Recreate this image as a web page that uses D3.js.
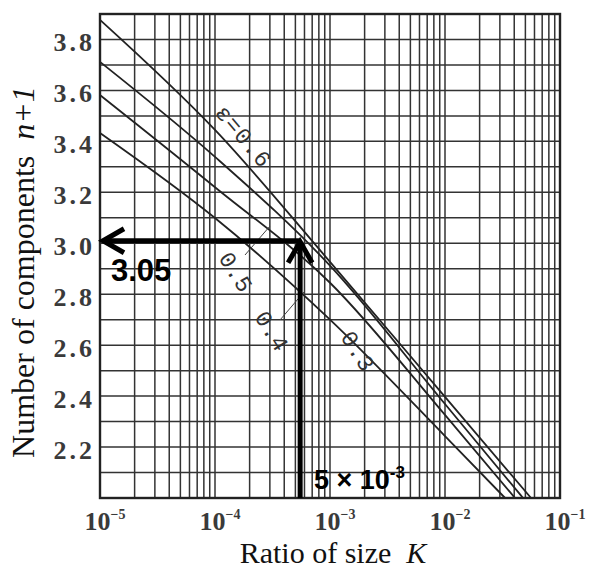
<!DOCTYPE html>
<meta charset="utf-8">
<style type="text/css">
body { margin: 0; background: #ffffff; }
svg { display: block; }
.grid line { stroke: #333; stroke-width: 1.5px; }
.tick-lbl { font-family: 'Liberation Serif', serif; font-weight: bold; fill: #3a3a3a; }
.title { font-family: 'Liberation Serif', serif; fill: #111; }
.curve { fill: none; stroke: #222; stroke-width: 1.8px; }
.curve-lbl { font-family: 'Liberation Mono', monospace; fill: #333; font-size: 23px; }
.arrow { fill: none; stroke: #000; stroke-width: 5px; }
.note { font-family: 'Liberation Sans', Arial, sans-serif; font-weight: bold; fill: #000; }
</style>
<body>
<div class="g-chart"></div>
<script src="https://cdnjs.cloudflare.com/ajax/libs/d3/7.8.5/d3.min.js"></script>
<script type="text/javascript">

// porosity of each curve
var epsLabels = ["0.6", "0.5", "0.4", "0.3"];
// ratio of size K where values were read
var kPoints = [1e-5, 1e-4, 1e-3, 1e-2];
// n+1 read at kPoints, one row per curve
var nEps06 = [3.877, 3.445, 2.927, 2.397];
var nEps05 = [3.712, 3.339, 2.912, 2.369];
var nEps04 = [3.582, 3.220, 2.845, 2.326];
var nEps03 = [3.433, 3.099, 2.700, 2.243];
// K where each curve hits n+1 = 2.0
var kEnd = [0.056, 0.0477, 0.0406, 0.0333];

// axis ticks
var yTicks = [2.2, 2.4, 2.6, 2.8, 3.0, 3.2, 3.4, 3.6, 3.8];
var xTickExp = [-5, -4, -3, -2, -1];

// reading marked by the arrows
var readK = 5.5e-4;
var readN = 3.01;

var width = 590, height = 572;
var margin = {top: 14, left: 100, bottom: 74, right: 30};

var x = d3.scaleLog()
    .domain([1e-5, 1e-1])
    .range([margin.left, width - margin.right]);

var y = d3.scaleLinear()
    .domain([2.0, 3.9])
    .range([height - margin.bottom, margin.top]);

var svg = d3.select(".g-chart").append("svg")
    .attr("width", width)
    .attr("height", height);

//Grid lines
var grid = svg.append("g").attr("class", "grid");

var xGrid = [];
xTickExp.slice(0, 4).forEach(function(e) {
  for (var m = 1; m < 10; m++) xGrid.push(m * Math.pow(10, e));
});

grid.selectAll("line.v")
    .data(xGrid)
    .enter().append("line")
    .attr("x1", function(d) { return x(d); })
    .attr("x2", function(d) { return x(d); })
    .attr("y1", y.range()[1])
    .attr("y2", y.range()[0]);

grid.selectAll("line.h")
    .data(d3.range(21, 39).map(function(d) { return d / 10; }))
    .enter().append("line")
    .attr("x1", x.range()[0])
    .attr("x2", x.range()[1])
    .attr("y1", function(d) { return y(d); })
    .attr("y2", function(d) { return y(d); });

//Frame
svg.append("rect")
    .attr("x", x.range()[0])
    .attr("y", y.range()[1])
    .attr("width", x.range()[1] - x.range()[0])
    .attr("height", y.range()[0] - y.range()[1])
    .style("fill", "none")
    .style("stroke", "#222")
    .style("stroke-width", 2.4);

//Y tick labels
svg.selectAll("text.ylbl")
    .data(yTicks)
    .enter().append("text")
    .attr("class", "tick-lbl")
    .attr("x", 95)
    .attr("y", function(d) { return y(d) + 12; })
    .attr("text-anchor", "end")
    .style("font-size", "26px")
    .style("letter-spacing", "3px")
    .text(function(d) { return d3.format(".1f")(d); });

//X tick labels
var xl = svg.selectAll("text.xlbl")
    .data(xTickExp)
    .enter().append("text")
    .attr("class", "tick-lbl")
    .attr("x", function(d) { return x(Math.pow(10, d)) + 5; })
    .attr("y", 530)
    .attr("text-anchor", "middle")
    .style("font-size", "26px");
xl.append("tspan").text("10");
xl.append("tspan")
    .attr("dy", -11)
    .style("font-size", "14px")
    .text(function(d) { return "\u2212" + (-d); });

//Axis titles
var xt = svg.append("text")
    .attr("class", "title")
    .attr("x", 333)
    .attr("y", 563)
    .attr("text-anchor", "middle")
    .style("font-size", "30px");
xt.append("tspan").text("Ratio of size\u00a0\u00a0");
xt.append("tspan").style("font-style", "italic").text("K");

var yt = svg.append("text")
    .attr("class", "title")
    .attr("transform", "translate(34,272) rotate(-90)")
    .attr("text-anchor", "middle")
    .style("font-size", "32px");
yt.append("tspan").text("Number of components\u00a0\u00a0");
yt.append("tspan").style("font-style", "italic").text("n+1");

//Curves
var rows = [nEps06, nEps05, nEps04, nEps03];
var line = d3.line()
    .x(function(d) { return x(d[0]); })
    .y(function(d) { return y(d[1]); })
    .curve(d3.curveMonotoneX);

svg.selectAll("path.curve")
    .data(rows)
    .enter().append("path")
    .attr("class", "curve")
    .attr("d", function(r, i) {
      var pts = kPoints.map(function(k, j) { return [k, r[j]]; });
      pts.push([kEnd[i], 2.0]);
      return line(pts);
    });

//Curve labels
svg.append("text").attr("class", "curve-lbl")
    .attr("transform", "translate(214,113) rotate(50)")
    .style("letter-spacing", "1px")
    .text("\u03b5=" + epsLabels[0]);
svg.append("text").attr("class", "curve-lbl")
    .attr("transform", "translate(218,258) rotate(58)")
    .style("letter-spacing", "0.5px")
    .text(epsLabels[1]);
svg.append("text").attr("class", "curve-lbl")
    .attr("transform", "translate(254,317) rotate(58)")
    .style("letter-spacing", "0.5px")
    .text(epsLabels[2]);
svg.append("text").attr("class", "curve-lbl")
    .attr("transform", "translate(340,337) rotate(58)")
    .style("letter-spacing", "0.5px")
    .text(epsLabels[3]);

//Leader lines for 0.5 and 0.4
svg.append("line").attr("x1", 245).attr("y1", 255).attr("x2", 270).attr("y2", 226)
    .style("stroke", "#444").style("stroke-width", 1);
svg.append("line").attr("x1", 280).attr("y1", 320).attr("x2", 304).attr("y2", 292)
    .style("stroke", "#444").style("stroke-width", 1);

//Arrows
var ax = x(readK), ay = y(readN);
svg.append("line").attr("class", "arrow")
    .attr("x1", ax).attr("y1", ay).attr("x2", x.range()[0] + 4).attr("y2", ay);
svg.append("polyline").attr("class", "arrow")
    .attr("points", [[x.range()[0] + 24, ay - 12], [x.range()[0] + 3, ay], [x.range()[0] + 24, ay + 12]].join(" "));
svg.append("line").attr("class", "arrow")
    .attr("x1", ax).attr("y1", y.range()[0]).attr("x2", ax).attr("y2", ay + 2);
svg.append("polyline").attr("class", "arrow")
    .attr("points", [[ax - 12, ay + 22], [ax, ay + 1], [ax + 12, ay + 22]].join(" "));

svg.append("text").attr("class", "note")
    .attr("x", 111).attr("y", 281)
    .style("font-size", "31px")
    .text("3.05");

var nt = svg.append("text").attr("class", "note")
    .attr("x", 314).attr("y", 489)
    .style("font-size", "27px");
nt.append("tspan").text("5 \u00d7 10");
nt.append("tspan").attr("dy", -11).style("font-size", "17px").text("-3");

</script>
</body>
